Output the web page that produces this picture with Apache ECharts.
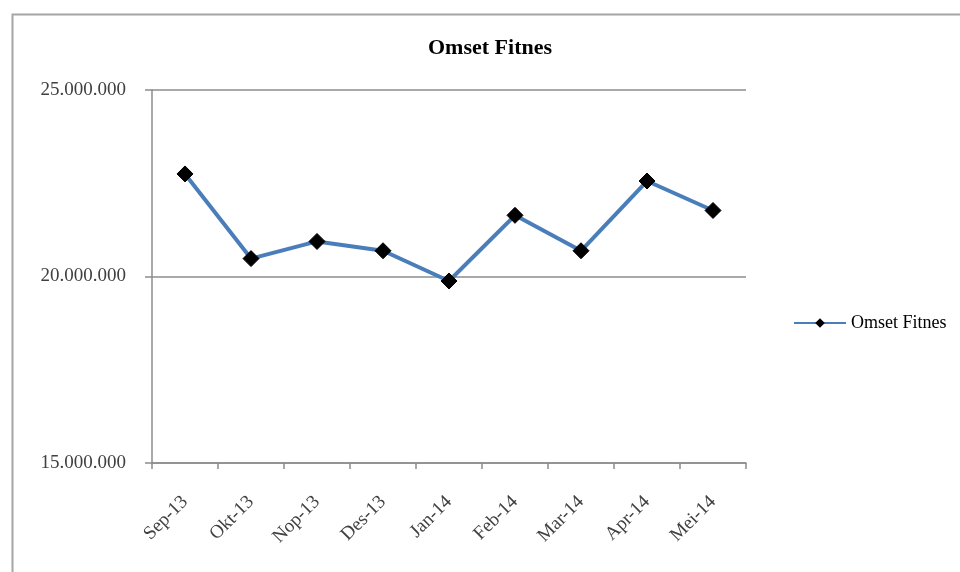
<!DOCTYPE html>
<html>
<head>
<meta charset="utf-8">
<script src="https://cdn.jsdelivr.net/npm/echarts@6/dist/echarts.min.js"></script>
<style>html,body{margin:0;padding:0;background:#fff}#c{width:960px;height:572px}</style>
</head>
<body>
<div id="c"></div>
<script>
const categories = ['Sep-13','Okt-13','Nop-13','Des-13','Jan-14','Feb-14','Mar-14','Apr-14','Mei-14'];
const omsetFitnes = [22750000, 20480000, 20940000, 20690000, 19880000, 21640000, 20690000, 22560000, 21770000];
const seriesName = 'Omset Fitnes';
const yTicks = [15000000, 20000000, 25000000];

const chart = echarts.init(document.getElementById('c'), null, {renderer: 'canvas'});
const fmt = v => String(v).replace(/\B(?=(\d{3})+(?!\d))/g, '.');
chart.setOption({
  animation: false,
  backgroundColor: '#fff',
  graphic: [{
    type: 'rect', left: 10, top: 12, shape: {width: 1000, height: 1000},
    style: {fill: 'none', stroke: '#a6a6a6', lineWidth: 2}, silent: true
  }],
  title: {
    text: 'Omset Fitnes', left: 485, top: 32, textAlign: 'center',
    textStyle: {fontFamily: 'Liberation Serif', fontSize: 22, fontWeight: 'bold', color: '#000'}
  },
  legend: {
    data: [seriesName], left: 788, top: 309, itemWidth: 52, itemHeight: 12, itemGap: 4,
    textStyle: {fontFamily: 'Liberation Serif', fontSize: 18, color: '#000'},
    lineStyle: {width: 2, color: '#4a7ebb'},
    itemStyle: {color: '#000'}
  },
  grid: {left: 152, right: 214, top: 90, bottom: 109, containLabel: false},
  xAxis: {
    type: 'category', data: categories, boundaryGap: true,
    axisLine: {lineStyle: {color: '#8c8c8c', width: 1.5}},
    axisTick: {show: true, alignWithLabel: false, length: 6, lineStyle: {color: '#8c8c8c', width: 1.5}},
    axisLabel: {rotate: 45, margin: 36, fontFamily: 'Liberation Serif', fontSize: 19, color: '#404040', interval: 0}
  },
  yAxis: {
    type: 'value', min: 15000000, max: 25000000, interval: 5000000,
    axisLine: {show: true, lineStyle: {color: '#8c8c8c', width: 1.5}},
    axisTick: {show: true, length: 7, lineStyle: {color: '#8c8c8c', width: 1.5}},
    splitLine: {lineStyle: {color: '#8c8c8c', width: 1.5}},
    axisLabel: {margin: 26, fontFamily: 'Liberation Serif', fontSize: 19, color: '#404040',
      formatter: v => yTicks.includes(v) ? fmt(v) : ''}
  },
  series: [{
    name: seriesName, type: 'line', data: omsetFitnes,
    symbol: 'diamond', symbolSize: 16,
    lineStyle: {color: '#4a7ebb', width: 4},
    itemStyle: {color: '#000', borderColor: '#000'}
  }]
});
</script>
</body>
</html>
